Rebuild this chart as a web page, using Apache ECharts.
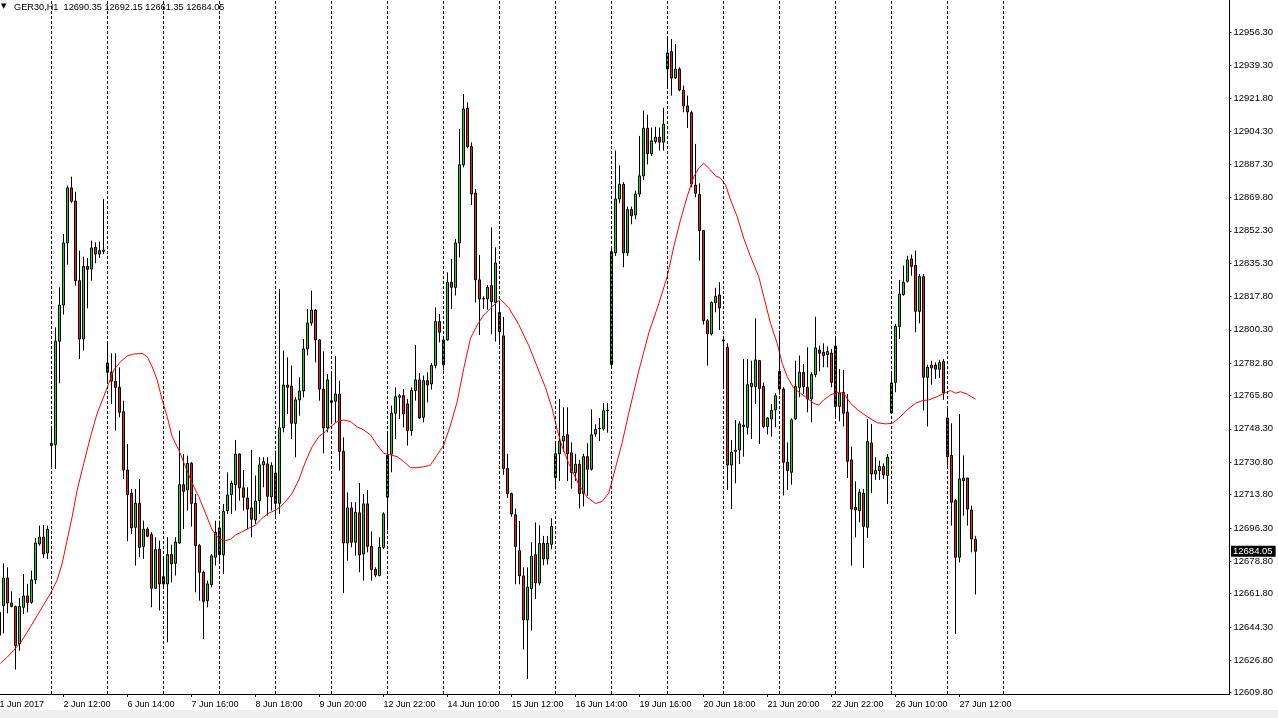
<!DOCTYPE html>
<html><head><meta charset="utf-8">
<script src="https://cdn.jsdelivr.net/npm/echarts@6/dist/echarts.min.js"></script>
<style>html,body{margin:0;padding:0;background:#fff;}#c{width:1278px;height:718px;}</style>
</head><body><div id="c"></div>
<script>
// ---- data (H1 bars, first entry is the partially visible bar at the left edge) ----
const opens = [12652.0,
 12655.5,12670.0,12656.9,12655.0,12635.4,12654.6,12660.6,12657.2,12669.0,12687.9,
 12691.5,12683.1,12740.7,12740.0,12794.3,12813.3,12845.9,12874.8,12867.9,12826.1,
 12795.5,12833.6,12832.2,12843.6,12840.1,12841.5,12782.9,12778.0,12773.3,12770.1,
 12757.3,12726.7,12714.5,12696.6,12709.2,12686.5,12695.7,12692.8,12664.6,12685.2,
 12670.7,12666.9,12682.3,12677.7,12688.4,12719.0,12716.2,12730.2,12709.2,12687.0,
 12673.0,12658.1,12666.5,12680.9,12696.3,12682.1,12705.4,12713.8,12719.0,12735.1,
 12717.3,12712.0,12706.8,12700.5,12710.6,12729.4,12729.9,12712.7,12725.1,12709.2,
 12748.8,12771.3,12770.8,12751.2,12763.5,12768.2,12790.2,12803.9,12810.7,12795.0,
 12769.2,12748.8,12762.2,12762.8,12766.6,12736.5,12688.4,12706.8,12688.8,12704.2,
 12682.6,12708.9,12686.6,12674.4,12671.3,12686.1,12712.4,12735.1,12756.5,12764.9,
 12765.7,12761.4,12747.4,12768.4,12774.0,12754.4,12773.6,12771.9,12781.5,12804.6,
 12781.9,12795.0,12825.2,12822.6,12845.9,12886.9,12916.6,12896.5,12872.1,12826.5,
 12816.5,12816.5,12823.5,12814.7,12809.4,12797.1,12727.5,12714.3,12703.2,12684.4,
 12671.1,12648.0,12664.5,12682.2,12667.4,12688.2,12680.0,12687.7,12722.7,12735.2,
 12741.9,12745.2,12735.7,12725.3,12729.7,12714.3,12733.7,12727.1,12745.6,12748.3,
 12748.3,12757.8,12782.1,12840.7,12869.0,12876.7,12840.7,12863.4,12860.6,12871.6,
 12881.1,12906.1,12892.8,12899.2,12901.4,12898.8,12937.2,12946.3,12932.5,12937.2,
 12926.2,12917.8,12914.3,12876.3,12871.3,12852.4,12805.1,12798.1,12814.6,12818.6,
 12795.0,12791.1,12729.3,12736.5,12737.2,12750.3,12749.1,12770.5,12770.5,12784.1,
 12770.5,12749.5,12753.5,12758.2,12778.4,12769.2,12730.8,12725.5,12753.5,12770.1,
 12778.0,12770.1,12764.0,12776.8,12789.7,12788.5,12787.3,12788.1,12791.8,12760.1,
 12767.5,12757.0,12732.0,12707.1,12705.4,12714.5,12696.6,12740.9,12724.6,12726.4,
 12728.5,12723.8,12756.6,12772.7,12802.1,12818.8,12825.8,12837.5,12834.0,12810.0,
 12828.2,12775.4,12780.3,12781.8,12779.6,12783.6,12754.0,12734.3,12710.6,12680.9,
 12721.1,12722.5,12705.7,12690.35];
const highs = [12656.4,
 12677.7,12675.6,12663.0,12655.5,12659.5,12672.1,12666.9,12673.9,12691.0,12697.5,
 12697.8,12697.5,12749.4,12801.6,12822.6,12850.6,12876.0,12880.7,12872.8,12841.9,
 12838.7,12838.0,12847.1,12846.2,12846.6,12869.0,12793.7,12788.0,12788.0,12780.6,
 12763.1,12740.4,12716.7,12716.7,12722.0,12700.1,12696.6,12694.0,12691.4,12689.6,
 12680.0,12691.4,12687.5,12691.4,12747.4,12735.1,12734.2,12730.8,12714.1,12687.9,
 12673.9,12668.6,12682.6,12700.1,12700.1,12708.9,12725.5,12721.1,12742.5,12735.5,
 12726.7,12717.6,12737.2,12723.8,12733.4,12733.4,12733.4,12730.8,12736.9,12821.7,
 12789.4,12785.9,12781.5,12764.9,12775.4,12795.5,12811.2,12820.9,12811.2,12795.5,
 12789.0,12777.1,12777.1,12786.4,12773.6,12743.9,12715.0,12709.8,12709.8,12719.9,
 12714.1,12716.2,12694.4,12675.6,12691.4,12704.5,12746.5,12760.5,12770.1,12766.6,
 12769.2,12764.0,12770.1,12792.3,12777.6,12776.3,12778.0,12782.9,12812.1,12808.6,
 12796.4,12830.5,12837.5,12848.0,12905.7,12924.1,12919.7,12898.7,12874.2,12839.6,
 12817.9,12823.8,12854.1,12843.6,12814.8,12807.1,12735.2,12714.8,12706.5,12699.9,
 12675.6,12675.6,12688.8,12699.2,12697.7,12692.1,12692.1,12701.4,12740.3,12764.0,
 12759.6,12759.6,12741.2,12735.2,12731.9,12735.2,12740.8,12758.5,12750.7,12754.0,
 12761.8,12761.8,12843.0,12894.4,12886.6,12877.8,12865.0,12865.0,12873.4,12902.1,
 12915.4,12913.2,12906.5,12906.9,12906.5,12916.9,12953.9,12953.0,12950.4,12938.1,
 12928.5,12923.2,12915.4,12897.9,12877.2,12852.7,12806.0,12815.3,12822.3,12825.3,
 12795.3,12793.2,12742.5,12753.0,12752.3,12785.0,12785.0,12784.1,12806.3,12784.5,
 12772.6,12754.4,12761.4,12767.0,12799.9,12770.1,12741.2,12753.9,12784.1,12786.8,
 12782.4,12791.1,12778.0,12807.2,12792.0,12793.2,12791.5,12790.2,12796.4,12779.7,
 12779.2,12766.6,12739.0,12720.8,12716.7,12716.7,12753.5,12750.9,12733.4,12731.6,
 12730.2,12735.1,12778.0,12803.4,12826.5,12834.0,12839.2,12839.8,12841.9,12829.6,
 12829.6,12782.0,12784.1,12783.2,12784.5,12785.0,12758.7,12751.2,12711.5,12756.1,
 12734.3,12722.5,12708.0,12692.15];
const lows = [12630.1,
 12640.9,12651.4,12654.6,12621.9,12631.8,12651.1,12652.0,12656.4,12666.9,12687.0,
 12680.5,12680.0,12728.4,12727.2,12772.2,12808.3,12834.5,12866.9,12823.5,12785.0,
 12789.4,12811.6,12826.1,12835.2,12838.0,12840.1,12772.7,12761.4,12747.4,12754.4,
 12722.0,12689.3,12693.1,12676.5,12680.9,12680.0,12691.4,12654.6,12664.2,12652.9,
 12664.2,12636.2,12667.7,12671.3,12687.9,12695.7,12705.4,12697.0,12662.5,12658.1,
 12638.0,12654.6,12665.1,12676.5,12678.8,12672.1,12703.6,12703.6,12705.4,12710.6,
 12705.4,12695.7,12691.4,12698.4,12703.6,12717.6,12702.7,12705.4,12702.7,12703.6,
 12746.5,12756.1,12743.0,12733.4,12755.2,12764.9,12786.8,12802.5,12783.2,12763.1,
 12735.5,12746.5,12751.7,12751.7,12726.4,12662.1,12679.1,12686.1,12681.7,12673.0,
 12668.6,12683.5,12668.6,12670.4,12670.9,12685.2,12694.9,12725.5,12743.0,12753.5,
 12749.1,12739.5,12744.7,12763.1,12753.5,12751.7,12762.2,12768.9,12780.1,12793.7,
 12778.9,12794.6,12811.2,12818.3,12838.4,12885.6,12895.6,12865.8,12814.7,12797.6,
 12811.2,12810.9,12798.0,12794.1,12792.4,12724.2,12712.0,12702.1,12666.7,12666.7,
 12632.5,12617.0,12642.4,12659.0,12666.1,12676.7,12677.1,12685.1,12716.5,12720.9,
 12736.3,12720.9,12716.9,12720.9,12706.5,12707.6,12713.2,12726.4,12744.1,12741.9,
 12747.4,12746.3,12781.0,12839.1,12866.8,12833.2,12839.1,12855.7,12858.3,12870.1,
 12878.9,12887.1,12891.5,12898.1,12894.4,12894.4,12927.6,12923.2,12932.0,12925.5,
 12914.5,12906.3,12875.1,12869.9,12836.6,12803.0,12781.5,12797.3,12809.5,12800.2,
 12770.1,12716.2,12706.2,12719.7,12729.9,12733.7,12745.3,12743.0,12761.4,12740.4,
 12748.6,12745.3,12744.2,12749.1,12766.3,12713.3,12716.2,12719.0,12753.0,12764.9,
 12766.6,12757.0,12751.8,12775.4,12778.5,12780.6,12780.6,12770.1,12754.4,12752.3,
 12749.5,12722.5,12676.5,12691.4,12699.3,12675.3,12691.0,12714.5,12721.5,12721.5,
 12722.0,12708.9,12756.1,12767.5,12795.5,12818.2,12825.2,12828.7,12799.0,12803.7,
 12757.9,12749.5,12771.5,12774.5,12775.0,12763.5,12729.0,12697.5,12640.6,12678.2,
 12702.7,12697.5,12683.5,12661.35];
const closes = [12640.0,
 12670.0,12656.9,12655.1,12634.5,12655.0,12660.6,12657.2,12669.0,12688.4,12691.5,
 12682.6,12695.6,12739.6,12794.3,12813.3,12845.9,12874.8,12867.8,12826.1,12795.5,
 12833.6,12832.1,12843.3,12840.1,12841.9,12842.2,12778.0,12773.3,12770.1,12757.0,
 12726.7,12713.8,12696.3,12709.2,12686.1,12695.7,12691.9,12664.6,12684.9,12666.9,
 12666.9,12682.3,12677.4,12688.9,12719.0,12715.5,12730.2,12709.2,12687.0,12673.0,
 12657.8,12666.9,12681.6,12694.0,12682.3,12704.9,12713.6,12719.7,12735.1,12717.3,
 12712.4,12706.2,12700.8,12710.4,12729.4,12731.1,12712.9,12729.0,12709.2,12748.8,
 12771.3,12770.1,12751.2,12763.5,12768.2,12790.2,12803.9,12810.7,12795.0,12769.2,
 12748.8,12774.0,12763.1,12766.6,12736.5,12688.4,12706.8,12688.8,12704.5,12682.1,
 12708.9,12686.6,12674.4,12671.6,12686.1,12703.6,12734.3,12756.5,12765.2,12765.7,
 12756.1,12747.4,12768.4,12774.0,12754.0,12773.6,12771.3,12781.5,12804.6,12799.0,
 12795.0,12825.2,12822.6,12845.9,12886.9,12916.2,12896.5,12871.6,12826.5,12816.5,
 12816.8,12822.6,12815.1,12835.4,12799.3,12727.5,12714.3,12703.6,12686.6,12671.1,
 12648.0,12665.2,12681.5,12667.4,12688.2,12680.0,12688.2,12697.0,12735.2,12741.9,
 12744.5,12735.2,12725.3,12729.7,12714.3,12733.7,12727.1,12745.2,12747.9,12748.6,
 12757.8,12758.2,12841.3,12869.0,12876.7,12840.7,12863.4,12860.1,12871.6,12881.1,
 12906.1,12892.8,12899.5,12901.4,12898.8,12908.3,12945.6,12932.5,12937.2,12926.2,
 12917.8,12914.7,12876.9,12872.0,12852.4,12805.1,12798.1,12814.6,12817.9,12811.8,
 12794.4,12729.3,12736.0,12737.2,12750.9,12749.5,12771.5,12772.2,12784.5,12769.6,
 12749.5,12754.0,12757.9,12765.7,12769.2,12730.8,12726.4,12753.0,12770.5,12778.0,
 12770.5,12764.0,12776.8,12790.8,12788.0,12786.8,12788.9,12772.7,12760.1,12767.1,
 12756.5,12731.3,12706.2,12705.7,12715.0,12697.1,12741.6,12724.6,12726.4,12728.5,
 12724.1,12733.4,12772.4,12802.1,12819.1,12825.2,12837.0,12833.6,12810.0,12828.2,
 12775.4,12780.6,12781.8,12779.6,12783.1,12767.3,12733.7,12709.8,12680.9,12722.0,
 12722.5,12706.2,12690.5,12684.05];

// moving average (red line): [bar position, value]
const maPoints = [[0.25,12625.2],[1.92,12628.4],[4,12633.1],[5.25,12636.0],[7.75,12644.4],[10.25,12653.2],
 [12.75,12661.9],[14.42,12669.0],[15.67,12677.7],[16.92,12690.0],[18.17,12702.2],[19.42,12716.2],
 [21.07,12730.2],[22.75,12744.2],[24.42,12756.5],[26.07,12765.2],[27.32,12772.2],[28.57,12779.2],
 [30.25,12783.6],[31.92,12786.6],[33.57,12787.6],[35.67,12787.9],[36.92,12786.2],[38.17,12780.9],
 [39.42,12774.0],[40.67,12763.5],[41.92,12754.7],[43.17,12744.2],[44.82,12737.2],[46.5,12728.4],
 [48.17,12719.7],[49.82,12712.7],[51.5,12704.0],[53.17,12695.2],[54.82,12690.8],[56.5,12689.6],
 [57.75,12690.3],[59,12692.6],[60.67,12694.3],[62.32,12696.1],[64,12697.8],[65.67,12701.4],
 [67.32,12704.0],[69,12705.7],[70.25,12707.4],[71.5,12710.1],[73.17,12714.5],[74.82,12721.5],
 [76.5,12731.1],[78.17,12738.9],[79.82,12744.2],[81.5,12746.8],[82.75,12749.4],[84.42,12752.1],
 [86.07,12753.0],[87.75,12752.1],[89.42,12749.4],[91.07,12747.7],[92.75,12745.1],[94.42,12739.8],
 [96.07,12735.5],[97.75,12734.6],[99.42,12733.7],[101.07,12731.1],[102.75,12727.9],[104.42,12727.9],
 [106.07,12728.4],[107.75,12729.3],[109.42,12734.6],[111.07,12739.8],[112.75,12750.3],[114.42,12762.6],
 [116.07,12780.1],[117.75,12795.9],[119.42,12802.8],[121.07,12808.1],[122.75,12811.6],[124.42,12815.0],
 [125.25,12816.3],[127.32,12811.9],[129.82,12803.0],[132.32,12792.0],[134.42,12780.9],[136.5,12769.9],
 [138.17,12758.9],[139.42,12747.8],[140.67,12738.9],[142.32,12730.1],[144.82,12719.1],[146.92,12712.4],
 [149,12709.1],[150.67,12710.2],[152.32,12714.6],[154,12727.9],[155.67,12741.1],[157.32,12756.6],
 [159.82,12778.7],[162.32,12798.6],[164.82,12814.0],[166.92,12828.2],[168.57,12843.9],[170.25,12858.0],
 [171.92,12870.2],[173.57,12880.7],[174.82,12885.1],[176.07,12887.7],[177.75,12884.2],[179,12881.1],
 [180.25,12879.9],[181.5,12876.3],[182.75,12868.5],[184.42,12859.7],[186.07,12848.3],[187.75,12838.7],
 [189.82,12828.2],[191.07,12817.7],[192.75,12803.7],[194.42,12793.2],[195.67,12782.7],[196.92,12775.7],
 [198.57,12769.6],[200.25,12767.0],[201.92,12764.4],[203.57,12761.7],[204.82,12760.8],[206.07,12763.5],
 [207.75,12766.1],[209.42,12767.5],[211.07,12767.0],[212.75,12761.7],[214.82,12757.8],[216.92,12754.7],
 [219.42,12751.5],[221.5,12750.9],[223.17,12751.2],[224.82,12753.9],[226.92,12758.2],[229,12761.7],
 [230.67,12763.1],[232.32,12763.5],[234.42,12765.2],[236.5,12767.3],[237.75,12768.4],[239,12767.0],
 [240.25,12767.8],[241.92,12766.6],[244,12763.8]];

const xLabels = ['1 Jun 2017','2 Jun 12:00','6 Jun 14:00','7 Jun 16:00','8 Jun 18:00','9 Jun 20:00',
 '12 Jun 22:00','14 Jun 10:00','15 Jun 12:00','16 Jun 14:00','19 Jun 16:00','20 Jun 18:00',
 '21 Jun 20:00','22 Jun 22:00','26 Jun 10:00','27 Jun 12:00'];
const yTicks = [12609.80,12626.80,12644.30,12661.80,12678.80,12696.30,12713.80,12730.80,12748.30,12765.80,
 12782.80,12800.30,12817.80,12835.30,12852.30,12869.80,12887.30,12904.30,12921.80,12939.30,12956.30];
const gridBars = [13,27,41,55,69,83,97,111,125,139,153,167,181,195,209,223,237,251];
const lastPrice = 12684.05;
const headerText = 'GER30,H1  12690.35 12692.15 12661.35 12684.05';

// ---- build ----
const N = 308;            // slots on the time axis (includes empty right margin)
const LABEL_STEP = 16;    // bars between time labels
const cats = [];
for (let j = 0; j < N; j++) cats.push(String(j));
const candles = opens.map((o, k) => [o, closes[k], lows[k], highs[k]]);
const labelAt = idx => idx % LABEL_STEP === 0 && idx / LABEL_STEP < xLabels.length;

const FONT = 'Liberation Sans';
const chart = echarts.init(document.getElementById('c'), null, {renderer: 'canvas'});
chart.setOption({
  animation: false,
  backgroundColor: '#ffffff',
  title: [
    {text: '\u25BC', left: 1, top: 3, padding: 0, textStyle: {fontSize: 7, color: '#000', fontWeight: 'normal', fontFamily: 'DejaVu Sans'}},
    {text: headerText, left: 14, top: 3, padding: 0, textStyle: {fontSize: 9.2, color: '#000', fontWeight: 'normal', fontFamily: FONT}}
  ],
  graphic: [{type: 'rect', left: 0, top: 710, shape: {width: 1278, height: 8}, style: {fill: '#f0f0f0'}, silent: true}],
  grid: {left: -2.5, top: 0, width: 4 * N, height: 694, containLabel: false, outerBoundsMode: 'none'},
  xAxis: [{
    type: 'category', data: cats, boundaryGap: true,
    axisLine: {show: true, lineStyle: {color: '#000', width: 1}},
    axisTick: {show: true, alignWithLabel: true, interval: labelAt, length: 3, lineStyle: {color: '#000'}},
    axisLabel: {show: true, interval: labelAt, align: 'left', margin: 6, fontSize: 9, fontFamily: FONT, color: '#000',
      formatter: (v, idx) => labelAt(idx) ? xLabels[idx / LABEL_STEP] : ''},
    splitLine: {show: false}
  }, {
    type: 'value', min: -0.5, max: N - 0.5, show: false, gridIndex: 0
  }],
  yAxis: {
    type: 'value', position: 'right', min: 12609.1, max: 12973.45, scale: true,
    axisLine: {show: true, onZero: false, lineStyle: {color: '#000', width: 1}},
    axisTick: {show: true, length: 2, customValues: yTicks, lineStyle: {color: '#000'}},
    axisLabel: {show: true, customValues: yTicks, margin: 4, fontSize: 9.5, fontFamily: FONT, color: '#000',
      formatter: v => v.toFixed(2)},
    splitLine: {show: false}
  },
  series: [
    {
      name: 'grid', type: 'line', xAxisIndex: 1, data: [], z: 1, silent: true,
      markLine: {
        silent: true, symbol: ['none', 'none'], animation: false,
        label: {show: false},
        lineStyle: {color: '#000', width: 1, type: [3, 2]},
        data: gridBars.map(j => ({xAxis: j}))
      }
    },
    {
      name: 'GER30', type: 'candlestick', data: candles, z: 2, barWidth: 2,
      itemStyle: {color: '#16d916', color0: '#ee1b1b', borderColor: '#000', borderColor0: '#000', borderWidth: 1},
      markLine: {
        silent: true, symbol: ['none', 'none'], animation: false,
        lineStyle: {color: 'rgba(0,0,0,0)', width: 0},
        label: {show: true, position: 'end', distance: 1.5, formatter: () => lastPrice.toFixed(2),
          backgroundColor: '#000', color: '#fff', fontSize: 9.5, fontFamily: FONT, padding: [1, 3, 0, 2]},
        data: [{yAxis: lastPrice}]
      }
    },
    {
      name: 'MA', type: 'line', xAxisIndex: 1, data: maPoints, z: 3, showSymbol: false, symbol: 'none',
      lineStyle: {color: '#ff0000', width: 1}, silent: true
    }
  ]
});
</script>
</body></html>
